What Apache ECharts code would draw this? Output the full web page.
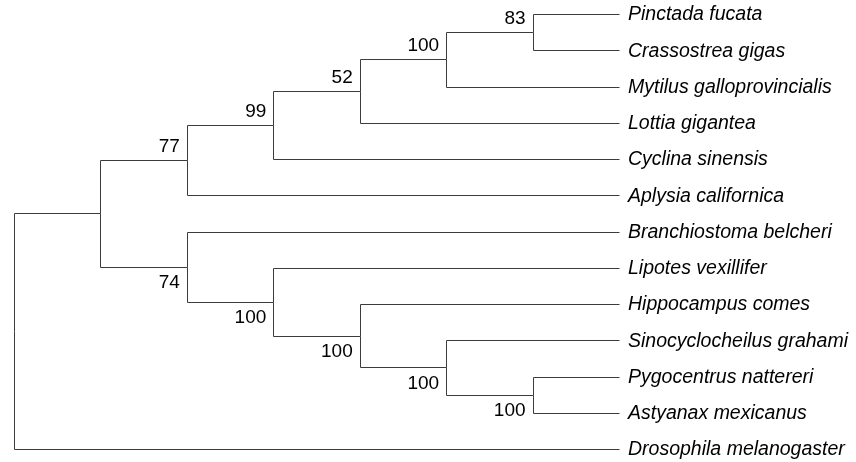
<!DOCTYPE html>
<html>
<head>
<meta charset="utf-8">
<script src="https://cdn.jsdelivr.net/npm/echarts@6/dist/echarts.min.js"></script>
<style>html,body{margin:0;padding:0;background:#fff;}#main{width:856px;height:462px;}</style>
</head>
<body>
<div id="main"></div>
<script>
// Leaves, top to bottom
const leaves = [
  'Pinctada fucata', 'Crassostrea gigas', 'Mytilus galloprovincialis', 'Lottia gigantea',
  'Cyclina sinensis', 'Aplysia californica', 'Branchiostoma belcheri', 'Lipotes vexillifer',
  'Hippocampus comes', 'Sinocyclocheilus grahami', 'Pygocentrus nattereri',
  'Astyanax mexicanus', 'Drosophila melanogaster'
];
const leafDepth = 7;
// Internal nodes (children listed first-to-last; children defined before parents)
const nodeIds      = ['n83', 'n100u', 'n52', 'n99', 'n77', 'n100d', 'n100c', 'n100b', 'n100a', 'n74', 'nA', 'root'];
const nodeChildren = [
  ['Pinctada fucata', 'Crassostrea gigas'],
  ['n83', 'Mytilus galloprovincialis'],
  ['n100u', 'Lottia gigantea'],
  ['n52', 'Cyclina sinensis'],
  ['n99', 'Aplysia californica'],
  ['Pygocentrus nattereri', 'Astyanax mexicanus'],
  ['Sinocyclocheilus grahami', 'n100d'],
  ['Hippocampus comes', 'n100c'],
  ['Lipotes vexillifer', 'n100b'],
  ['Branchiostoma belcheri', 'n100a'],
  ['n77', 'n74'],
  ['nA', 'Drosophila melanogaster']
];
const nodeDepth   = [6, 5, 4, 3, 2, 6, 5, 4, 3, 2, 1, 0];
const nodeSupport = [83, 100, 52, 99, 77, 100, 100, 100, 100, 74, null, null];
const supportSide = ['top', 'top', 'top', 'top', 'top', 'bottom', 'bottom', 'bottom', 'bottom', 'bottom', null, null];

// layout from the data
const pos = {};
leaves.forEach((n, i) => { pos[n] = [leafDepth, i]; });
nodeIds.forEach((id, k) => {
  const ys = nodeChildren[k].map(c => pos[c][1]);
  pos[id] = [nodeDepth[k], ys.reduce((a, b) => a + b, 0) / ys.length];
});

const branchData = [];
nodeIds.forEach((id, k) => {
  const p = pos[id];
  nodeChildren[k].forEach(c => {
    const q = pos[c];
    branchData.push([p[0], p[1], q[0], q[1]]);
  });
});
const leafData = leaves.map((n, i) => [leafDepth, i]);
const supportData = [];
nodeIds.forEach((id, k) => {
  if (nodeSupport[k] != null) supportData.push([pos[id][0], pos[id][1], String(nodeSupport[k]), supportSide[k]]);
});

const FONT_FAMILY = '"Liberation Sans", Arial, sans-serif';
const snap = v => Math.round(v) + 0.5;

const chart = echarts.init(document.getElementById('main'), null, {renderer: 'canvas'});
chart.setOption({
  backgroundColor: '#ffffff',
  animation: false,
  grid: {left: 14, top: 14, width: 605, height: 435},
  xAxis: {type: 'value', min: 0, max: 7, show: false},
  yAxis: {type: 'value', min: 0, max: 12, inverse: true, show: false},
  series: [
    {
      type: 'custom',
      data: branchData,
      silent: true,
      renderItem: function (params, api) {
        const a = api.coord([api.value(0), api.value(1)]);
        const b = api.coord([api.value(0), api.value(3)]);
        const c = api.coord([api.value(2), api.value(3)]);
        const pts = [a, b, c].map(p => [snap(p[0]), snap(p[1])]);
        return {
          type: 'polyline',
          shape: {points: pts},
          style: {stroke: '#3c3c3c', lineWidth: 1, fill: null}
        };
      }
    },
    {
      type: 'custom',
      data: leafData,
      silent: true,
      renderItem: function (params, api) {
        const p = api.coord([api.value(0), api.value(1)]);
        return {
          type: 'text',
          style: {
            text: leaves[params.dataIndex], x: p[0] + 9, y: p[1] + 1,
            fill: '#000', font: 'italic 19.5px ' + FONT_FAMILY,
            align: 'left', verticalAlign: 'middle', textAlign: 'left', textVerticalAlign: 'middle'
          }
        };
      }
    },
    {
      type: 'custom',
      data: supportData,
      silent: true,
      renderItem: function (params, api) {
        const d = supportData[params.dataIndex];
        const p = api.coord([d[0], d[1]]);
        const top = d[3] === 'top';
        return {
          type: 'text',
          style: {
            text: d[2], x: p[0] - 7, y: top ? p[1] - 4 : p[1] + 7,
            fill: '#000', font: '19px ' + FONT_FAMILY,
            align: 'right', verticalAlign: top ? 'bottom' : 'top',
            textAlign: 'right', textVerticalAlign: top ? 'bottom' : 'top'
          }
        };
      }
    }
  ]
});
</script>
</body>
</html>
